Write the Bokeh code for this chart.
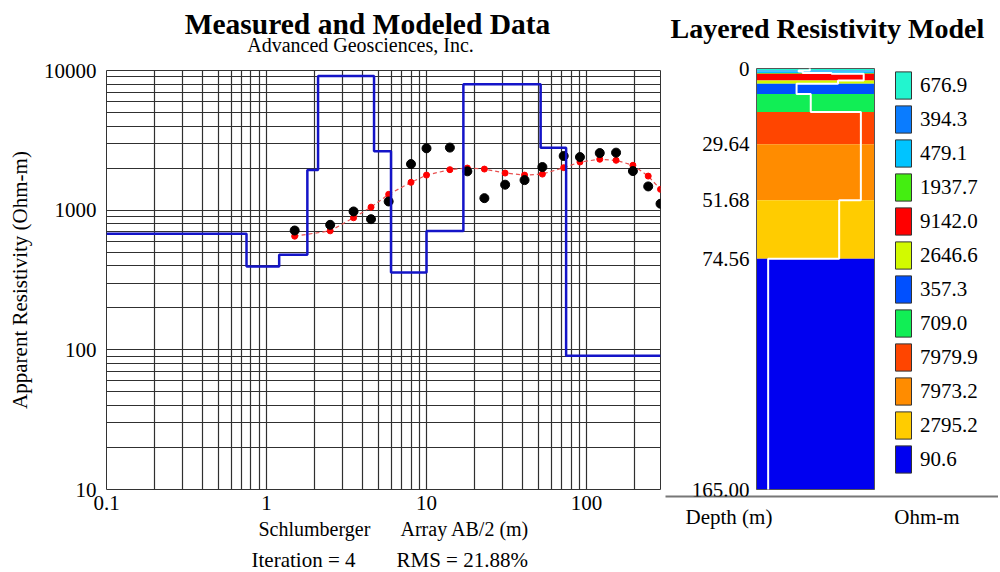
import numpy as np
from bokeh.plotting import figure
from bokeh.layouts import row, column
from bokeh.models import (FixedTicker, LabelSet, ColumnDataSource, Legend, LegendItem)
from bokeh.core.properties import value
from bokeh.embed import file_html
from bokeh.resources import INLINE

# ---------------- data ----------------
AB2 = [1.5, 2.5, 3.5, 4.5, 5.8, 8, 10, 14, 18, 23, 31, 41, 53, 72, 91, 121, 153, 195, 243, 290]
RHO_MEASURED = [715, 785, 979, 862, 1154, 2138, 2773, 2805, 1897, 1219, 1522, 1641,
                2036, 2443, 2400, 2564, 2582, 1905, 1479, 1112]
RHO_MODELED = [651, 711, 882, 1051, 1298, 1582, 1783, 1950, 2003, 1969, 1844, 1783,
               1812, 2015, 2211, 2314, 2275, 2096, 1754, 1409]

LAYER_RHO = [676.9, 394.3, 479.1, 1937.7, 9142.0, 2646.6, 357.3, 709.0, 7979.9, 7973.2, 2795.2, 90.6]
LAYER_BOTTOM = [0.75, 1.2, 1.8, 2.1, 4.7, 6.0, 10.0, 17.0, 29.64, 51.68, 74.56, 165.0]
LAYER_COLORS = ["#22F5CF", "#0A7CFF", "#00C4FF", "#44EE11", "#FF0000", "#D2FA00",
                "#0050FF", "#11EE55", "#FF4500", "#FF8C00", "#FFCC00", "#0000F0"]

DEPTH_TICKS = [0, 29.64, 51.68, 74.56, 165.0]
DEPTH_TICK_LABELS = ["0", "29.64", "51.68", "74.56", "165.00"]

X_TICKS = [0.1, 1, 10, 100]
X_MINOR = [0.2, 0.3, 0.4, 0.5, 0.6, 0.7, 0.8, 0.9, 2, 3, 4, 5, 6, 7, 8, 9,
           20, 30, 40, 50, 60, 70, 80, 90, 200, 300]
Y_TICKS = [10, 100, 1000, 10000]
Y_MINOR = [20, 30, 40, 50, 60, 70, 80, 90, 200, 300, 400, 500, 600, 700, 800, 900,
           2000, 3000, 4000, 5000, 6000, 7000, 8000, 9000]

TITLE = "Measured and Modeled Data"
SUBTITLE = "Advanced Geosciences, Inc."
MODEL_TITLE = "Layered Resistivity Model"
ARRAY_TYPE = "Schlumberger"
X_LABEL = "Array AB/2 (m)"
Y_LABEL = "Apparent Resistivity (Ohm-m)"
ITERATION = 4
RMS = 21.88

FONT = "Liberation Serif"
X_MIN, X_MAX = 0.1, 290
Y_MIN, Y_MAX = 10, 10000

W_TOTAL, H_TOTAL = 998, 572
HEAD_H = 57
W1 = 665
W2 = W_TOTAL - W1
P1_H = 13 + 419 + 30


def blank(width, height):
    f = figure(width=width, height=height, x_range=(0, width), y_range=(height, 0),
               x_axis_location=None, y_axis_location=None, title=None,
               output_backend="svg", toolbar_location=None, min_border=0)
    f.frame_align = False
    f.outline_line_color = None
    f.grid.visible = False
    return f


def put_text(f, x, y, text, size, style="normal", align="left"):
    f.text(x=[x], y=[y], text=[text], text_font=value(FONT), text_font_size=value(size),
           text_font_style=style, text_align=align, text_baseline="middle", text_color="black")


# ---------------- header (titles) ----------------
header = blank(W_TOTAL, HEAD_H)
put_text(header, 367, 23.5, TITLE, "29.5px", "bold", "center")
put_text(header, 360, 44.5, SUBTITLE, "20px", "normal", "center")
put_text(header, 670, 27.5, MODEL_TITLE, "28px", "bold", "left")

# ---------------- left chart ----------------
p1 = figure(width=W1, height=P1_H, x_axis_type="log", y_axis_type="log",
            x_range=(X_MIN, X_MAX), y_range=(Y_MIN, Y_MAX), title=None,
            output_backend="svg", toolbar_location=None,
            min_border_left=106, min_border_right=5, min_border_top=13, min_border_bottom=30)
p1.frame_align = False
p1.outline_line_color = "#333333"
p1.outline_line_width = 1

xt = FixedTicker(ticks=X_TICKS, minor_ticks=X_MINOR)
yt = FixedTicker(ticks=Y_TICKS, minor_ticks=Y_MINOR)
p1.xaxis.ticker = xt
p1.yaxis.ticker = yt
p1.xgrid.ticker = xt
p1.ygrid.ticker = yt
for g in (p1.xgrid, p1.ygrid):
    g.grid_line_color = "#303030"
    g.grid_line_width = 1.2
    g.minor_grid_line_color = "#303030"
    g.minor_grid_line_width = 1.2

p1.xaxis.major_label_overrides = {t: ("%g" % t) for t in X_TICKS}
p1.yaxis.major_label_overrides = {t: ("%g" % t) for t in Y_TICKS}


def plain_axis(ax, size="21px", standoff=6):
    ax.axis_line_color = None
    ax.major_tick_line_color = None
    ax.minor_tick_line_color = None
    ax.major_tick_out = 0
    ax.major_tick_in = 0
    ax.minor_tick_out = 0
    ax.minor_tick_in = 0
    ax.major_label_text_font = FONT
    ax.major_label_text_font_size = size
    ax.major_label_text_color = "black"
    ax.major_label_standoff = standoff


for ax in p1.xaxis:
    plain_axis(ax, "21px", 6)
for ax in p1.yaxis:
    plain_axis(ax, "21px", 10)
p1.yaxis.axis_label = Y_LABEL
p1.yaxis.axis_label_text_font = FONT
p1.yaxis.axis_label_text_font_style = "normal"
p1.yaxis.axis_label_text_font_size = "21px"
p1.yaxis.axis_label_text_color = "black"
p1.yaxis.axis_label_standoff = 9

# modeled curve (red dashed with dots)
p1.line(AB2, RHO_MODELED, line_color="#E85050", line_dash="4 3", line_width=1.2)
p1.scatter(AB2, RHO_MODELED, size=6, color="#FF0000")
# measured (black dots)
p1.scatter(AB2, RHO_MEASURED, size=9, color="black")
# layered model as step curve
step_x = [X_MIN] + LAYER_BOTTOM[:-1] + [X_MAX]
step_y = LAYER_RHO + [LAYER_RHO[-1]]
p1.step(step_x, step_y, mode="after", line_color="#1414C8", line_width=2.5)

# ---------------- footer under the left chart ----------------
FOOT_H = H_TOTAL - HEAD_H - P1_H
footer = blank(W1, FOOT_H)
put_text(footer, 258, 9, ARRAY_TYPE, "20px", "normal", "left")
put_text(footer, 400, 9, X_LABEL, "20px", "normal", "left")
put_text(footer, 251, 40, "Iteration = %d" % ITERATION, "21px", "normal", "left")
put_text(footer, 396, 40, "RMS = %.2f%%" % RMS, "21px", "normal", "left")

# ---------------- right chart: layered model ----------------
COL_LO, COL_HI = 51.6, 15400          # log-resistivity span of the model column
COL_PX0, COL_PX1 = 91, 209            # column position inside the frame (px)
DEPTH_MAX = 165.0
PX_PER_M = 421.0 / DEPTH_MAX
DEPTH_TOP = -(68 - HEAD_H) / PX_PER_M
DEPTH_AXIS_END = DEPTH_MAX + 7 / PX_PER_M

dpp = (np.log10(COL_HI) - np.log10(COL_LO)) / (COL_PX1 - COL_PX0)
xs0 = 10 ** (np.log10(COL_LO) - COL_PX0 * dpp)
xs1 = 10 ** (np.log10(COL_LO) + (W2 - COL_PX0) * dpp)

p2 = figure(width=W2, height=H_TOTAL - HEAD_H, x_axis_type="log", x_range=(xs0, xs1),
            y_range=(DEPTH_AXIS_END, DEPTH_TOP), y_axis_location=None, title=None,
            output_backend="svg", toolbar_location=None,
            min_border_left=0, min_border_right=0, min_border_top=0, min_border_bottom=76)
p2.frame_align = False
p2.outline_line_color = None
p2.grid.visible = False

tops = [0.0] + LAYER_BOTTOM[:-1]
items = []
for rho, t, b, c in zip(LAYER_RHO, tops, LAYER_BOTTOM, LAYER_COLORS):
    p2.quad(left=COL_LO, right=COL_HI, top=t, bottom=b, fill_color=c, line_color=None)
    lr = p2.quad(left=COL_LO, right=COL_HI, top=t, bottom=b, fill_color=c,
                 line_color="#333333", line_width=1, visible=False)
    items.append(LegendItem(label="%.1f" % rho, renderers=[lr]))

# column border
p2.quad(left=COL_LO, right=COL_HI, top=0, bottom=DEPTH_MAX, fill_color=None,
        line_color="#555555", line_width=1)

# white resistivity profile
wx = list(np.repeat(LAYER_RHO, 2))
wy = [v for pair in zip(tops, LAYER_BOTTOM) for v in pair]
p2.line(wx, wy, line_color="white", line_width=2)

src = ColumnDataSource(dict(x=[COL_LO] * len(DEPTH_TICKS), y=DEPTH_TICKS, t=DEPTH_TICK_LABELS))
p2.add_layout(LabelSet(x="x", y="y", text="t", source=src, x_offset=-7, text_align="right",
                       text_baseline="middle", text_font=FONT, text_font_size="21px",
                       text_color="black"))

legend = Legend(items=items, location=(228, 20), orientation="vertical",
                glyph_width=20, glyph_height=34, spacing=0, padding=0, margin=0,
                label_standoff=7, label_text_font=FONT, label_text_font_size="21px",
                label_text_color="black", border_line_color=None, background_fill_alpha=0)
p2.add_layout(legend)


# bottom axis of the model panel: grey rule with "Depth (m)" and "Ohm-m"
def px_to_rho(px):
    return float("%.5g" % (10 ** (np.log10(COL_LO) + (px - 756) * dpp)))


bottom_pos = [px_to_rho(728.5), px_to_rho(926.5)]
xa = p2.xaxis[0]
xa.ticker = FixedTicker(ticks=bottom_pos, minor_ticks=[])
xa.major_label_overrides = {bottom_pos[0]: "Depth (m)", bottom_pos[1]: "Ohm-m"}
plain_axis(xa, "21px", 8)
xa.axis_line_color = "#777777"
xa.axis_line_width = 2

layout = column(header, row(column(p1, footer), p2))
open("out.html", "w").write(file_html(layout, INLINE))
